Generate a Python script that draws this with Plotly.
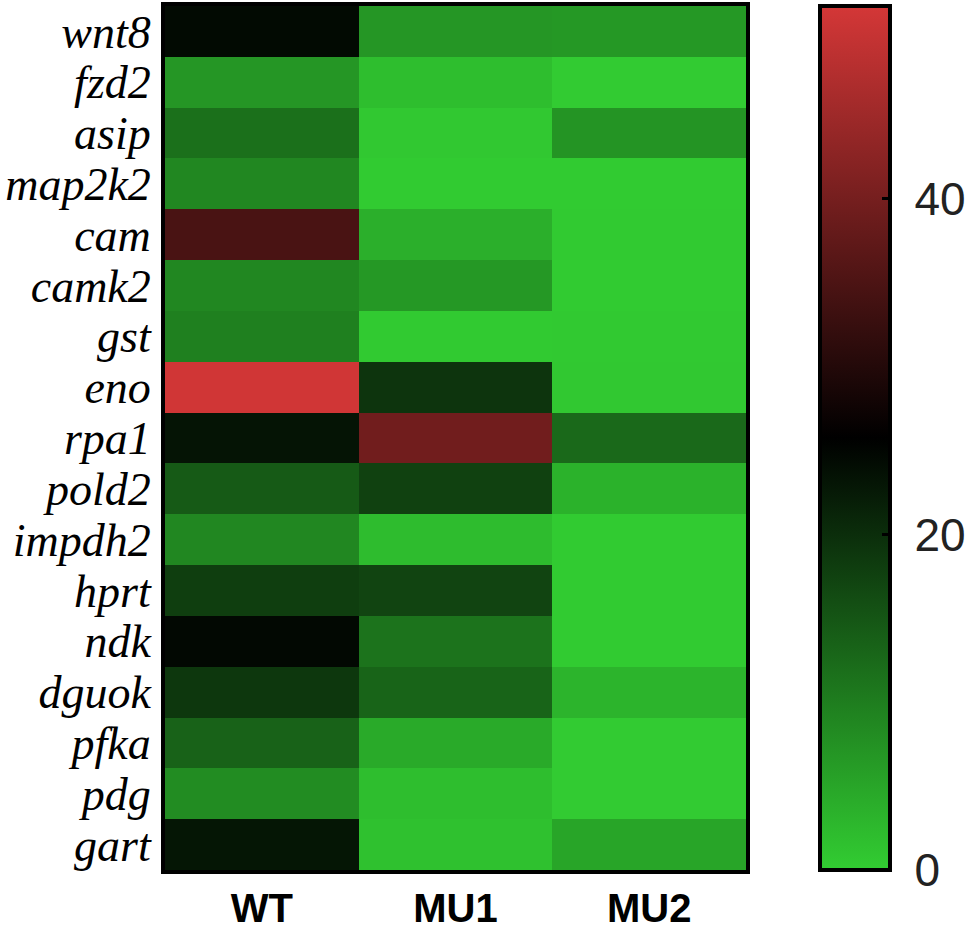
import plotly.graph_objects as go

genes = ["wnt8", "fzd2", "asip", "map2k2", "cam", "camk2", "gst", "eno", "rpa1",
         "pold2", "impdh2", "hprt", "ndk", "dguok", "pfka", "pdg", "gart"]
groups = ["WT", "MU1", "MU2"]

wt  = [24.5, 6.9, 11.7, 8.8, 34.6, 8.8, 9.7, 51.0, 23.2, 14.4, 8.8, 18.0, 24.7, 18.8, 13.5, 8.2, 23.0]
mu1 = [6.9, 1.9, 0.6, 0.3, 3.8, 6.7, 0.4, 19.2, 39.5, 17.6, 2.1, 17.2, 11.3, 13.2, 4.4, 1.9, 1.5]
mu2 = [6.7, 0.2, 7.2, 0.3, 0.4, 0.3, 0.5, 0.6, 12.6, 3.4, 0.3, 0.3, 0.3, 3.1, 0.2, 0.2, 5.0]

cbar_ticks = [0, 20, 40]
zmin, zmax = 0, 51.5

W, H = 969, 935
ML, MR, MT, MB = 165, 223, 6, 65
plot_h = H - MT - MB

z = [[wt[i], mu1[i], mu2[i]] for i in range(len(genes))]
ylabels = ["<i>%s</i>" % g for g in genes]
xlabels = ["<b>%s</b>" % g for g in groups]

fig = go.Figure(go.Heatmap(
    z=z, x=xlabels, y=ylabels,
    zmin=zmin, zmax=zmax,
    colorscale=[[0, "rgb(50,205,50)"], [0.5, "rgb(0,0,0)"], [1, "rgb(212,55,55)"]],
    colorbar=dict(
        x=1.127, xanchor="left", y=1, yanchor="top",
        thickness=70, thicknessmode="pixels",
        len=plot_h, lenmode="pixels", ypad=0, xpad=0,
        outlinewidth=4, outlinecolor="black",
        tickvals=cbar_ticks, ticktext=["\u00a0" + str(t) for t in cbar_ticks],
        ticks="inside", ticklen=10, tickwidth=3, tickcolor="black",
        tickfont=dict(family="Liberation Sans", size=46, color="#222"),
    ),
))

fig.update_layout(
    width=W, height=H,
    margin=dict(l=ML, r=MR, t=MT, b=MB, autoexpand=False),
    paper_bgcolor="white", plot_bgcolor="white",
)
fig.update_xaxes(showline=True, linewidth=4, linecolor="black", mirror=True, automargin=False,
                 ticks="", ticklabelstandoff=0,
                 tickmode="array", tickvals=xlabels, ticktext=xlabels,
                 tickfont=dict(family="Liberation Sans", size=40, color="black"))
fig.update_yaxes(autorange="reversed", showline=True, linewidth=4, linecolor="black", mirror=True,
                 automargin=False, ticks="", ticklabelstandoff=1,
                 tickmode="array", tickvals=ylabels, ticktext=ylabels,
                 tickfont=dict(family="Liberation Serif", size=46, color="black"))

fig.write_html("out.html", config={"displayModeBar": False},
               post_script="document.body.style.margin='0px';")
